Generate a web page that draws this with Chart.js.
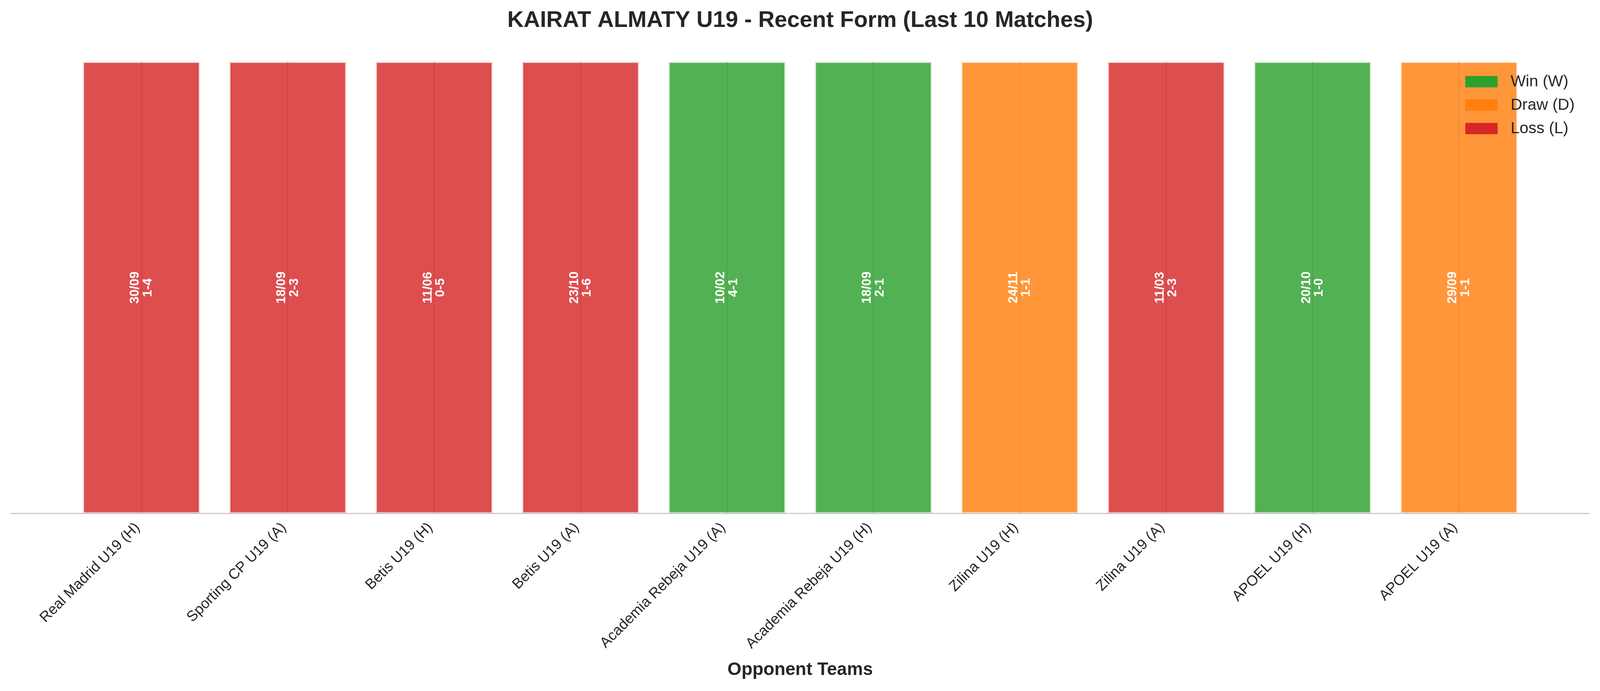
<!DOCTYPE html>
<html>
<head>
<meta charset="utf-8">
<title>KAIRAT ALMATY U19 - Recent Form</title>
<script src="https://cdn.jsdelivr.net/npm/chart.js@4.4.1/dist/chart.umd.min.js"></script>
<style>
  html, body { margin: 0; padding: 0; background: #ffffff; overflow: hidden; }
</style>
</head>
<body>
<canvas id="form"></canvas>
<script>
// Last 10 matches, oldest first
const opponents = [
  'Real Madrid U19 (H)', 'Sporting CP U19 (A)', 'Betis U19 (H)', 'Betis U19 (A)',
  'Academia Rebeja U19 (A)', 'Academia Rebeja U19 (H)', 'Zilina U19 (H)', 'Zilina U19 (A)',
  'APOEL U19 (H)', 'APOEL U19 (A)'
];
const matchDates = ['30/09', '18/09', '11/06', '23/10', '10/02', '18/09', '24/11', '11/03', '20/10', '29/09'];
const scores = ['1-4', '2-3', '0-5', '1-6', '4-1', '2-1', '1-1', '2-3', '1-0', '1-1'];
const results = ['L', 'L', 'L', 'L', 'W', 'W', 'D', 'L', 'W', 'D'];
const barHeights = [1, 1, 1, 1, 1, 1, 1, 1, 1, 1];

const legendKeys = ['W', 'D', 'L'];
const legendLabels = ['Win (W)', 'Draw (D)', 'Loss (L)'];

const RGB = { W: '44, 160, 44', D: '255, 127, 14', L: '214, 39, 40' };
const FONT = "'Liberation Sans', Arial, Helvetica, sans-serif";
const TEXT = '#262626';

// viewport can be narrower than the 4170px design, so horizontal offsets get scaled
const W = document.documentElement.clientWidth || window.innerWidth;
const H = document.documentElement.clientHeight || window.innerHeight;
const sx = W / 4170;

const canvas = document.getElementById('form');
canvas.width = W;
canvas.height = H;

// date + score inside each bar, rotated
const barText = {
  id: 'barText',
  afterDatasetsDraw(chart) {
    const ctx = chart.ctx;
    const meta = chart.getDatasetMeta(0);
    ctx.save();
    ctx.fillStyle = '#ffffff';
    ctx.font = `bold 33px ${FONT}`;
    ctx.textAlign = 'center';
    ctx.textBaseline = 'middle';
    meta.data.forEach((bar, i) => {
      const cy = (bar.y + bar.base) / 2;
      ctx.save();
      ctx.translate(bar.x, cy);
      ctx.rotate(-Math.PI / 2);
      ctx.fillText(matchDates[i], 0, -16 * sx);
      ctx.fillText(scores[i], 0, 17 * sx);
      ctx.restore();
    });
    ctx.restore();
  }
};

// legend sits inside the plot, top right
const insideLegend = {
  id: 'insideLegend',
  afterDraw(chart) {
    const { ctx, chartArea } = chart;
    const x0 = chartArea.right - 323 * sx;
    ctx.save();
    ctx.font = `41px ${FONT}`;
    ctx.textBaseline = 'middle';
    ctx.textAlign = 'left';
    legendKeys.forEach((k, i) => {
      const cy = chartArea.top + 51 + i * 60;
      ctx.fillStyle = `rgb(${RGB[k]})`;
      ctx.fillRect(x0, cy - 14.5, 84 * sx, 29);
      ctx.fillStyle = TEXT;
      ctx.fillText(legendLabels[i], x0 + 118 * sx, cy + 1);
    });
    ctx.restore();
  }
};

new Chart(canvas, {
  type: 'bar',
  data: {
    datasets: [{
      data: barHeights.map((v, i) => ({ x: i, y: v })),
      backgroundColor: results.map(r => `rgba(${RGB[r]}, 0.82)`),
      borderColor: results.map(r => `rgba(${RGB[r]}, 0.16)`),
      borderWidth: 3,
      borderSkipped: false,
      categoryPercentage: 0.8,
      barPercentage: 1.0
    }]
  },
  options: {
    responsive: false,
    animation: false,
    devicePixelRatio: 1,
    layout: { padding: { left: 29 * sx, right: 28 * sx, top: 0, bottom: 20 } },
    plugins: {
      legend: { display: false },
      tooltip: { enabled: false },
      title: {
        display: true,
        text: 'KAIRAT ALMATY U19 - Recent Form (Last 10 Matches)',
        color: TEXT,
        font: { family: FONT, size: 58, weight: 'bold' },
        padding: { top: 18, bottom: 70.5 }
      }
    },
    scales: {
      x: {
        type: 'linear',
        offset: false,
        min: -0.89,
        max: 9.89,
        afterBuildTicks: axis => { axis.ticks = opponents.map((_, i) => ({ value: i })); },
        ticks: {
          callback: v => opponents[v],
          autoSkip: false,
          minRotation: 45,
          maxRotation: 45,
          padding: 14.5,
          labelOffset: -10 * sx,
          color: TEXT,
          font: { family: FONT, size: 37.5 }
        },
        grid: { color: '#cccccc', lineWidth: 3, drawTicks: false, offset: false },
        border: { color: '#cccccc', width: 3 },
        title: {
          display: true,
          text: 'Opponent Teams',
          color: TEXT,
          font: { family: FONT, size: 46, weight: 'bold' },
          padding: { top: 3, bottom: 6 }
        }
      },
      y: { display: false, min: 0, max: 1 }
    }
  },
  plugins: [barText, insideLegend]
});
</script>
</body>
</html>
